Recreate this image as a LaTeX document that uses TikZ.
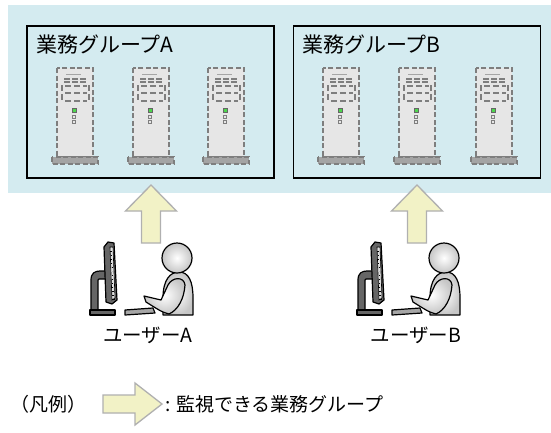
\documentclass[tikz,border=0pt]{standalone}
\usepackage{fontspec}
\setmainfont{Noto Sans CJK JP}
\definecolor{bgblue}{HTML}{D4EBF0}
\definecolor{arrowfill}{HTML}{F2F2C6}
\definecolor{arrowline}{HTML}{B0B0B0}
\definecolor{srvbody}{HTML}{E6E6E6}
\definecolor{srvline}{HTML}{7E7E7E}
\definecolor{srvbase}{HTML}{A4A4A4}
\definecolor{ledgreen}{HTML}{4CD64C}
\definecolor{darkpart}{HTML}{666666}
\begin{document}
\begin{tikzpicture}[x=1pt,y=-1pt,
  groupbox/.style={draw=black, line width=1.6pt, minimum width=247pt, minimum height=152pt, inner sep=0pt},
  grouptitle/.style={anchor=west, inner sep=0pt, font=\fontsize{21}{21}\selectfont},
  userlabel/.style={inner sep=0pt, font=\fontsize{19.5}{19.5}\selectfont},
  legendtext/.style={inner sep=0pt, font=\fontsize{19}{19}\selectfont},
  blockarrow/.style={fill=arrowfill, draw=arrowline, line width=1.3pt, line join=miter},
  srvdash/.style={draw=srvline, line width=1.8pt, dash pattern=on 5pt off 2.5pt},
  figline/.style={draw=black, line width=1.2pt, line join=round},
  server/.pic={
    % tower body and plinth
    \path[srvdash, fill=srvbody] (0,0) rectangle (36,89);
    \path[srvdash, fill=srvbase] (-5,89) rectangle (41,96);
    % vents and drive bays
    \draw[srvline!70, line width=1pt] (9,6) -- (24,6);
    \draw[srvline, line width=1.3pt, dash pattern=on 6pt off 2pt] (7,11) -- (30,11) (7,14) -- (30,14);
    \draw[srvline, line width=1.3pt, dash pattern=on 6pt off 3pt] (5,17) -- (5,34) (32,17) -- (32,34);
    \draw[srvline, line width=1.3pt, dash pattern=on 6pt off 3pt] (8,18) -- (30,18) (8,25) -- (30,25) (8,33) -- (30,33);
    % power lamp and buttons
    \path[fill=ledgreen, draw=srvline!80!black, line width=0.6pt] (15,40) rectangle (19,44);
    \path[fill=srvbody, draw=srvline, line width=0.9pt] (15.5,47) rectangle (18.5,50);
    \path[fill=srvbody, draw=srvline, line width=0.9pt] (15.5,52) rectangle (18.5,55);
  },
  user/.pic={
    % monitor stand
    \path[figline, fill=darkpart] (-86,56) -- (-86,22) .. controls (-86,15) and (-82,13) .. (-77,13)
      -- (-71,13) -- (-71,21) -- (-78,21) -- (-79,22) -- (-79,56) -- cycle;
    \path[figline, fill=darkpart] (-87,52) rectangle (-62,57);
    % monitor, side view
    \path[figline, fill=darkpart] (-73,-11) -- (-69,-16) -- (-63,-15) -- (-60,42) -- (-65,46) -- (-71,44) -- cycle;
    \path[fill=gray!25, draw=black, line width=0.6pt] (-67,-11) -- (-64,-11) -- (-62,40) -- (-65,42) -- cycle;
    \foreach \k in {0,...,12} {\draw[black, line width=0.5pt] (-66.8+0.09*\k*4,-7+\k*4) -- (-65,-7+\k*4);}
    % keyboard
    \path[figline, fill=gray!70] (-52,52) -- (-24,50) -- (-22,55) -- (-52,57) -- cycle;
    % person
    \path[figline, inner color=white, outer color=gray!45] (-14,57) -- (-14,40) .. controls (-14,22) and (-7,14) .. (2,14)
      .. controls (12,14) and (16,24) .. (16,40) -- (16,57) -- cycle;
    \path[figline, inner color=white, outer color=gray!45] (-33,38) -- (-16,42) .. controls (-13,35) .. (-9,27)
      .. controls (-5,19) and (7,18) .. (8,27) .. controls (7,41) and (1,52) .. (-8,56)
      .. controls (-15,54) .. (-31,44) -- cycle;
    \path[figline, inner color=white, outer color=gray!45] (0,0) circle[radius=15];
  }]
\useasboundingbox (0,0) rectangle (551,432);
\fill[white] (0,0) rectangle (551,432);

% monitored area
\fill[bgblue] (8,5) rectangle (551,193);

% business groups
\node[groupbox] (grpA) at (150.5,102) {};
\node[groupbox] (grpB) at (417,102) {};
\node[grouptitle] (titleA) at (36,45) {業務グループA};
\node[grouptitle] (titleB) at (302,45) {業務グループB};

\pic (srvA1) at (57,68) {server};
\pic (srvA2) at (133,68) {server};
\pic (srvA3) at (208,68) {server};
\pic (srvB1) at (323,68) {server};
\pic (srvB2) at (399,68) {server};
\pic (srvB3) at (476,68) {server};

% access arrows
\path[blockarrow] (141.5,243) -- (141.5,211) -- (125.5,211) -- (151,185) -- (176.5,211) -- (160.5,211) -- (160.5,243) -- cycle;
\path[blockarrow] (407.5,243) -- (407.5,211) -- (391.5,211) -- (417,185) -- (442.5,211) -- (426.5,211) -- (426.5,243) -- cycle;

% users
\pic (userA) at (177,258) {user};
\pic (userB) at (444,258) {user};
\node[userlabel] (labA) at (148,335) {ユーザーA};
\node[userlabel] (labB) at (416,335) {ユーザーB};

% legend
\node[legendtext] (legend) at (48.5,404) {（凡例）};
\path[blockarrow] (103,395) -- (135,395) -- (135,383) -- (162,404) -- (135,425) -- (135,413) -- (103,413) -- cycle;
\node[legendtext, anchor=west] (legendA) at (165,404) {: 監視できる業務グループ};
\end{tikzpicture}
\end{document}
